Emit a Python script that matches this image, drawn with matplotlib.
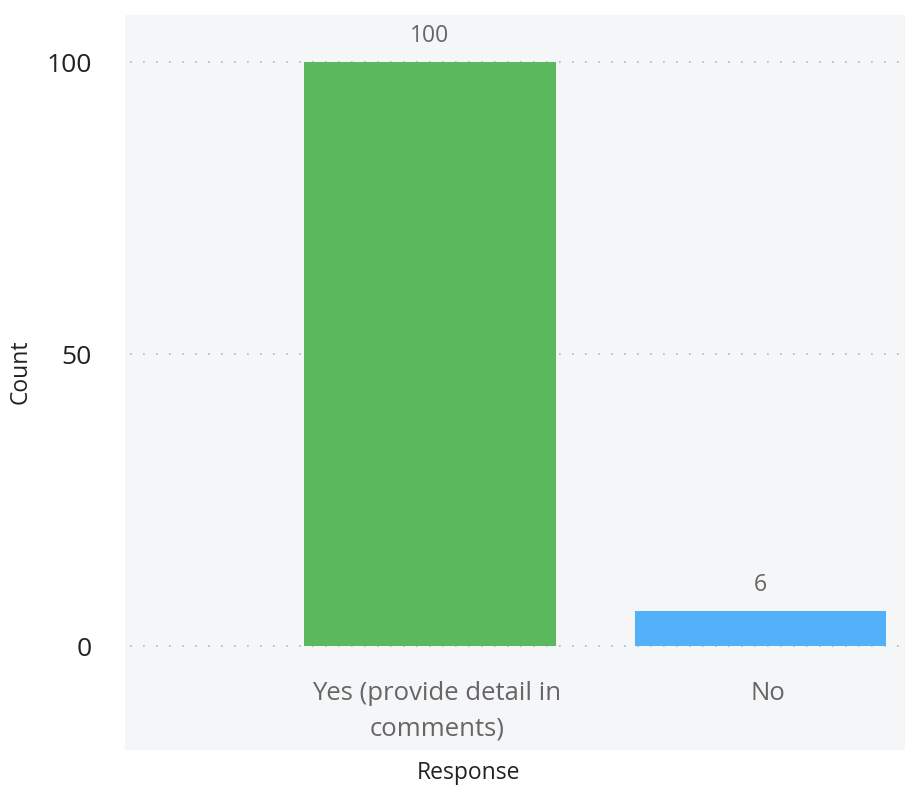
import matplotlib
matplotlib.use("Agg")
import matplotlib.pyplot as plt
import matplotlib.transforms as mtrans

categories = ["Yes (provide detail in\ncomments)", "No"]
counts = [100, 6]
colors = ["#5cb85c", "#53b1f9"]
yticks = [0, 50, 100]

plt.rcParams['font.family'] = ['Open Sans', 'DejaVu Sans']

fig = plt.figure(figsize=(9.05, 7.85), dpi=100)
ax = fig.add_axes([125/905, 35/785, 780/905, 735/785])
ax.set_facecolor("#f5f6f8")
for s in ax.spines.values():
    s.set_visible(False)

x = list(range(len(categories)))
ax.set_xlim(-0.921, 1.436)
ax.set_ylim(-17.8, 108.05)

for yv in yticks:
    ax.axhline(yv, xmin=0.007, xmax=0.993, color="#b4b8be", linestyle=(0, (1, 6.8)),
               linewidth=1.2, zorder=1)

bars = ax.bar(x, counts, width=0.76, color=colors, zorder=2)
for xi, v in zip(x, counts):
    ax.annotate(str(v), (xi, v), xytext=(0, 10), textcoords="offset points",
                ha="center", va="bottom", fontsize=16.5, color="#666666")

ax.set_yticks(yticks)
ax.set_yticklabels([str(t) for t in yticks], fontsize=19, color="#222222")
ax.tick_params(axis="y", length=0, pad=24)
ax.set_xticks(x)
ax.set_xticklabels(categories, fontsize=18.5, color="#666666", linespacing=1.58)
ax.tick_params(axis="x", length=0, pad=-50)
off = mtrans.ScaledTranslation(7/100, 0, fig.dpi_scale_trans)
for lab in ax.get_xticklabels():
    lab.set_transform(lab.get_transform() + off)
    lab.set_zorder(5)

fig.text(468/905, 1 - 773/785, "Response", ha="center", va="center", fontsize=16.5, color="#222222")
fig.text(21/905, 1 - 372/785, "Count", ha="center", va="center", rotation=90, fontsize=16.5, color="#222222")

fig.savefig("out.png", dpi=100)
